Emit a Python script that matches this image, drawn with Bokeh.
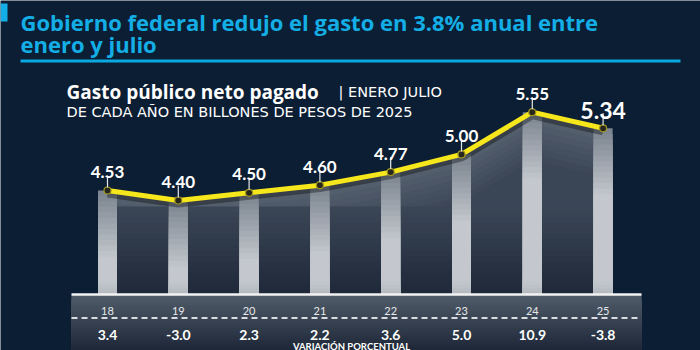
import numpy as np
from bokeh.plotting import figure
from bokeh.models import ColumnDataSource
from bokeh.core.properties import value
from bokeh.embed import file_html
from bokeh.resources import INLINE

# ---------------- data ----------------
years = ["18", "19", "20", "21", "22", "23", "24", "25"]
gasto = [4.53, 4.40, 4.50, 4.60, 4.77, 5.00, 5.55, 5.34]
variacion = [3.4, -3.0, 2.3, 2.2, 3.6, 5.0, 10.9, -3.8]

title_lines = ["Gobierno federal redujo el gasto en 3.8% anual entre", "enero y julio"]
sub_bold = "Gasto público neto pagado"
sub_rest = "| ENERO JULIO"
sub_line2 = "DE CADA AÑO EN BILLONES DE PESOS DE 2025"
var_label = "VARIACIÓN PORCENTUAL"

# ---------------- layout mapping ----------------
W, H = 700, 350
X0, STEP = 107.0, 70.8          # pixel of first category, spacing
REF_V, REF_PY, PPU = 4.40, 200.0, 76.8


def dx(px):
    return (px - X0) / STEP


def dy(py):
    return REF_V + (REF_PY - py) / PPU


def mix(c0, c1, t):
    a = np.array([int(c0[i:i + 2], 16) for i in (1, 3, 5)])
    b = np.array([int(c1[i:i + 2], 16) for i in (1, 3, 5)])
    c = np.round(a + (b - a) * t).astype(int)
    return "#%02x%02x%02x" % tuple(c)


BG = "#0b1e33"
CYAN = "#14aee6"
YELLOW = "#f6e61c"

p = figure(width=W, height=H, output_backend="svg", toolbar_location=None,
           x_range=(dx(0), dx(W)), y_range=(dy(H), dy(0)),
           x_axis_type=None, y_axis_type=None, min_border=0)
p.background_fill_color = BG
p.border_fill_color = BG
p.outline_line_color = None
p.grid.visible = False

xs = np.arange(len(years))
vals = np.array(gasto)
BASE = dy(294)

# ---------------- area under line (gradient approximation) ----------------
N = 8
for k in range(N + 1):
    top = np.maximum(vals - k * (6 / PPU), BASE)
    p.varea(x=xs, y1=BASE, y2=top, fill_color=mix("#56616f", "#3a4556", k / N))
N2 = 16
for k in range(N2 + 1):
    top = dy(206 + k * 88 / N2)
    p.quad(left=dx(99), right=dx(612), bottom=BASE, top=top,
           fill_color=mix("#3a4556", "#1d2737", k / N2), line_color=None)

# ---------------- light stripes ----------------
sw = 19 / STEP
N3 = 12
for k in range(N3 + 1):
    top = np.maximum(vals - k * (5.5 / PPU), BASE)
    p.vbar(x=xs, width=sw, bottom=BASE, top=top,
           fill_color=mix("#7c8590", "#c4c8ce", k / N3), line_color=None)
N4 = 5
for k in range(N4 + 1):
    top = dy(278 + k * 16 / N4)
    p.vbar(x=xs, width=sw, bottom=BASE, top=top,
           fill_color=mix("#c4c8ce", "#b2b7be", k / N4), line_color=None)

# ---------------- line ----------------
p.line(xs, vals - 2.5 / PPU, line_color="#000000", line_alpha=0.35, line_width=9)
p.line(xs, vals, line_color=YELLOW, line_width=5, line_join="round")
p.scatter(xs, vals, size=7, fill_color="#26261c", line_color="#a09620", line_width=1.2)

# ticks and value labels
p.segment(x0=xs, y0=vals + 3 / PPU, x1=xs, y1=vals + 15 / PPU,
          line_color="#e8e8e8", line_width=1.2)
lab_src = ColumnDataSource(dict(x=xs[:-1], y=vals[:-1] + 18.5 / PPU,
                                t=[f"{v:.2f}" for v in gasto[:-1]]))
p.text(x="x", y="y", text="t", source=lab_src, text_align="center",
       text_baseline="alphabetic", text_color="white",
       text_font=value("Lato"), text_font_style="bold", text_font_size="17px")
p.text(x=[xs[-1]], y=[vals[-1] + 17.5 / PPU], text=[f"{gasto[-1]:.2f}"],
       text_align="center", text_baseline="alphabetic", text_color="white",
       text_font=value("Lato"), text_font_style="bold", text_font_size="23px")

# ---------------- bottom table ----------------
TL, TR = dx(71), dx(641)
nb = 20
for k in range(nb + 1):
    y_top = dy(294 + k * 56 / nb)
    p.quad(left=TL, right=TR, top=y_top, bottom=dy(351),
           fill_color=mix("#505b6a", "#1b2535", k / nb), line_color=None)
p.segment(x0=[TL], y0=[dy(294)], x1=[TR], y1=[dy(294)], line_color="#f2f2f2", line_width=2.5)
p.segment(x0=[TL], y0=[dy(317.5)], x1=[TR], y1=[dy(317.5)], line_color="#d8dce0",
          line_width=2, line_dash="6 4")

p.text(x=xs, y=[dy(310)] * len(xs), text=years, text_align="center",
       text_baseline="alphabetic", text_color="#e6e8ea",
       text_font=value("Lato"), text_font_size="11px")
p.text(x=xs, y=[dy(334.5)] * len(xs), text=[f"{v:.1f}" for v in variacion],
       text_align="center", text_baseline="alphabetic", text_color="white",
       text_font=value("Lato"), text_font_style="bold", text_font_size="14px")
p.text(x=[dx(351)], y=[dy(345.5)], text=[var_label], text_align="center",
       text_baseline="alphabetic", text_color="white",
       text_font=value("Lato"), text_font_style="bold", text_font_size="9.5px")

# ---------------- titles ----------------
p.quad(left=dx(0), right=dx(7), top=dy(3), bottom=dy(21), fill_color=CYAN, line_color=None)
p.text(x=[dx(20), dx(20)], y=[dy(21), dy(43)], text=title_lines,
       text_align="left", text_baseline="alphabetic", text_color=CYAN,
       text_font=value("Open Sans"), text_font_style="bold", text_font_size="22px")
p.segment(x0=[dx(20)], y0=[dy(60.5)], x1=[dx(680)], y1=[dy(60.5)],
          line_color="#0aa9e2", line_width=3)

p.text(x=[dx(66)], y=[dy(91.5)], text=[sub_bold], text_align="left",
       text_baseline="alphabetic", text_color="white",
       text_font=value("Open Sans"), text_font_style="bold", text_font_size="19px")
p.text(x=[dx(338)], y=[dy(91.5)], text=[sub_rest], text_align="left",
       text_baseline="alphabetic", text_color="white",
       text_font=value("DejaVu Sans"), text_font_size="14.5px")
p.text(x=[dx(66)], y=[dy(111.5)], text=[sub_line2], text_align="left",
       text_baseline="alphabetic", text_color="white",
       text_font=value("DejaVu Sans"), text_font_size="14.5px")

open("out.html", "w").write(file_html(p, INLINE))
